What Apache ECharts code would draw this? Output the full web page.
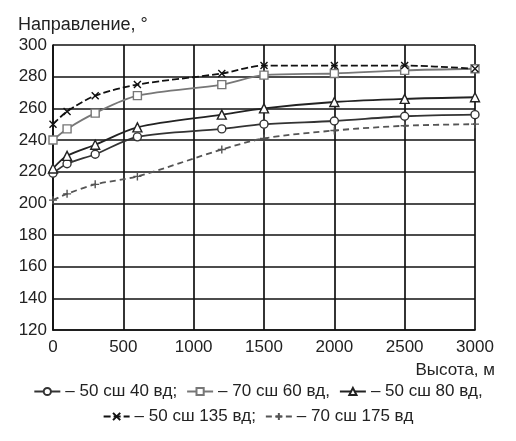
<!DOCTYPE html>
<html>
<head>
<meta charset="utf-8">
<script src="https://cdn.jsdelivr.net/npm/echarts@6/dist/echarts.min.js"></script>
<style>
  html, body { margin: 0; padding: 0; background: #fff; }
  #chart { width: 516px; height: 441px; }
</style>
</head>
<body>
<div id="chart"></div>
<script>
// Heights (m) at which the wind direction was sampled
const heights = [0, 100, 300, 600, 1200, 1500, 2000, 2500, 3000];

// Wind direction (degrees) per location
const dir50n40e  = [219, 225, 231, 242, 247, 250, 252, 255, 256];
const dir70n60e  = [240, 247, 257, 268, 275, 281, 282, 284, 285];
const dir50n80e  = [222, 230, 237, 248, 256, 260, 264, 266, 267];
const dir50n135e = [250, 258, 268, 275, 282, 287, 287, 287, 285];
const dir70n175e = [202, 206, 212, 217, 234, 241, 246, 249, 250];

const seriesNames = [
  '– 50 сш 40 вд;',
  '– 70 сш 60 вд,',
  '– 50 сш 80 вд,',
  '– 50 сш 135 вд;',
  '– 70 сш 175 вд'
];

const yTicks = [120, 140, 160, 180, 200, 220, 240, 260, 280, 300];
const xTicks = [0, 500, 1000, 1500, 2000, 2500, 3000];

const FONT = 'Liberation Sans, Arial, sans-serif';
const crossPath = 'path://M0,0L10,10M10,0L0,10';
const plusPath = 'path://M5,0L5,10M0,5L10,5';

function pairs(vals) {
  return heights.map((h, i) => [h, vals[i]]);
}

function lineSeries(name, vals, symbol, color, type, size) {
  return {
    name: name,
    type: 'line',
    data: pairs(vals),
    smooth: 0.3,
    symbol: symbol,
    symbolSize: size,
    showAllSymbol: true,
    lineStyle: { color: color, width: 1.8, type: type },
    itemStyle: { color: '#fff', borderColor: color, borderWidth: 1.4 },
    emphasis: { disabled: true },
    z: 3
  };
}

const legendText = { fontFamily: FONT, fontSize: 17, color: '#222' };

const chart = echarts.init(document.getElementById('chart'), null, { renderer: 'canvas' });

chart.setOption({
  animation: false,
  backgroundColor: '#fff',
  textStyle: { fontFamily: FONT },
  title: [
    {
      text: 'Направление, °',
      left: 13, top: 11,
      textStyle: { fontFamily: FONT, fontSize: 18, fontWeight: 'normal', color: '#222' }
    },
    {
      text: 'Высота, м',
      right: 16, top: 357,
      textStyle: { fontFamily: FONT, fontSize: 17, fontWeight: 'normal', color: '#222' }
    }
  ],
  grid: { left: 53, right: 41, top: 45, bottom: 111, containLabel: false },
  xAxis: {
    type: 'value',
    min: 0, max: 3000, interval: 500,
    axisLine: { show: true, lineStyle: { color: '#111', width: 1.7 } },
    axisTick: { show: false },
    axisLabel: {
      color: '#222', fontSize: 17, fontFamily: FONT, margin: 9,
      formatter: v => (xTicks.includes(v) ? String(v) : '')
    },
    splitLine: { show: true, lineStyle: { color: '#111', width: 1.7 } }
  },
  yAxis: {
    type: 'value',
    min: 120, max: 300, interval: 20,
    axisLine: { show: true, lineStyle: { color: '#111', width: 1.7 } },
    axisTick: { show: false },
    axisLabel: {
      color: '#222', fontSize: 17, fontFamily: FONT, margin: 6,
      formatter: v => (yTicks.includes(v) ? String(v) : '')
    },
    splitLine: { show: true, lineStyle: { color: '#111', width: 1.7 } }
  },
  legend: [
    {
      data: seriesNames.slice(0, 3),
      top: 378, left: 'center',
      itemWidth: 26, itemHeight: 9, itemGap: 9,
      textStyle: legendText
    },
    {
      data: seriesNames.slice(3),
      top: 403, left: 'center',
      itemWidth: 26, itemHeight: 9, itemGap: 9,
      textStyle: legendText
    }
  ],
  series: [
    lineSeries(seriesNames[0], dir50n40e, 'circle', '#333', 'solid', 8),
    lineSeries(seriesNames[1], dir70n60e, 'rect', '#777', 'solid', 8),
    lineSeries(seriesNames[2], dir50n80e, 'triangle', '#222', 'solid', 9),
    lineSeries(seriesNames[3], dir50n135e, crossPath, '#111', [7, 3], 7),
    lineSeries(seriesNames[4], dir70n175e, plusPath, '#555', [6, 4], 8)
  ]
});
</script>
</body>
</html>
